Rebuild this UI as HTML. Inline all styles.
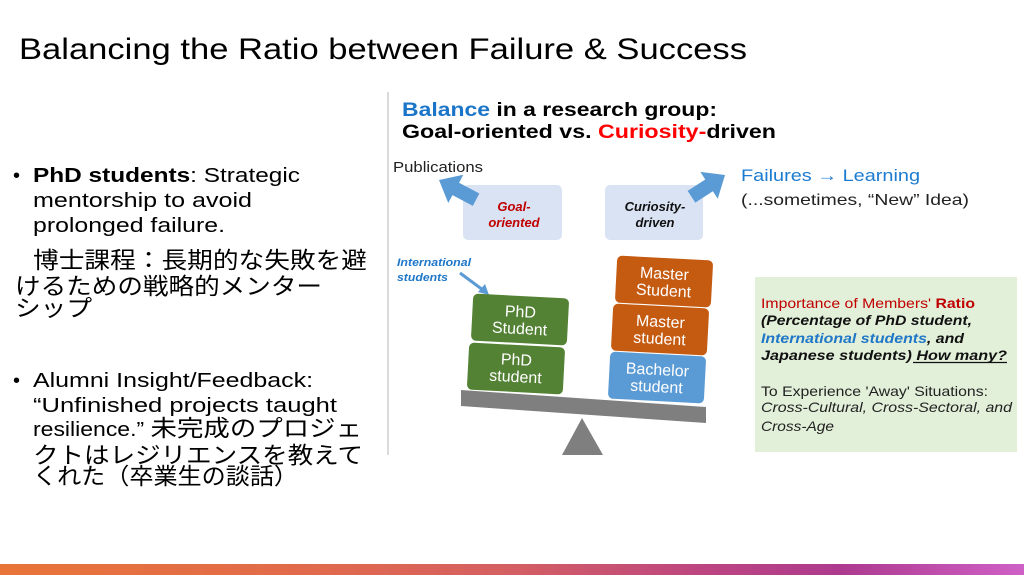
<!DOCTYPE html>
<html><head><meta charset="utf-8"><style>
html,body{margin:0;padding:0;background:#fff;}
svg{display:block;font-family:"Liberation Sans","Noto Sans CJK JP",sans-serif;}
</style></head><body>
<svg width="1024" height="575" viewBox="0 0 1024 575" xmlns="http://www.w3.org/2000/svg">
<defs>
<linearGradient id="bar" x1="0" y1="0" x2="1" y2="0">
<stop offset="0" stop-color="#e87438"/>
<stop offset="0.3" stop-color="#e26a4c"/>
<stop offset="0.5" stop-color="#d45f62"/>
<stop offset="0.68" stop-color="#bd4680"/>
<stop offset="0.82" stop-color="#ad3a8e"/>
<stop offset="1" stop-color="#cf60c6"/>
</linearGradient>
</defs>
<rect width="1024" height="575" fill="#fff"/>
<!-- Title -->
<text x="19" y="59" font-size="30" fill="#000" textLength="728" lengthAdjust="spacingAndGlyphs">Balancing the Ratio between Failure &amp; Success</text>

<!-- Left text -->
<g font-size="20" fill="#000">
<text x="13" y="182">•</text>
<text x="33" y="182" textLength="267" lengthAdjust="spacingAndGlyphs"><tspan font-weight="bold">PhD students</tspan>: Strategic</text>
<text x="33" y="207" textLength="219" lengthAdjust="spacingAndGlyphs">mentorship to avoid</text>
<text x="33" y="232" textLength="192" lengthAdjust="spacingAndGlyphs">prolonged failure.</text>
</g>
<g font-size="23" fill="#000">
<text x="33" y="268" textLength="334" lengthAdjust="spacingAndGlyphs">博士課程：長期的な失敗を避</text>
<text x="15" y="294" textLength="307" lengthAdjust="spacingAndGlyphs">けるための戦略的メンター</text>
<text x="15" y="316" textLength="77" lengthAdjust="spacingAndGlyphs">シップ</text>
</g>
<g font-size="20" fill="#000">
<text x="13" y="387">•</text>
<text x="33" y="387" textLength="280" lengthAdjust="spacingAndGlyphs">Alumni Insight/Feedback:</text>
<text x="33" y="412" textLength="304" lengthAdjust="spacingAndGlyphs">“Unfinished projects taught</text>
<text x="33" y="436" textLength="329" lengthAdjust="spacingAndGlyphs">resilience.” <tspan font-size="23">未完成のプロジェ</tspan></text>
</g>
<g font-size="23" fill="#000">
<text x="33" y="463" textLength="330" lengthAdjust="spacingAndGlyphs">クトはレジリエンスを教えて</text>
<text x="33" y="484" textLength="265" lengthAdjust="spacingAndGlyphs">くれた（卒業生の談話）</text>
</g>

<!-- divider line of picture -->
<rect x="387" y="92" width="2" height="363" fill="#dadada"/>

<!-- Header -->
<text x="402" y="116" font-size="19" font-weight="bold" fill="#000" textLength="315" lengthAdjust="spacingAndGlyphs"><tspan fill="#1a75c9">Balance</tspan> in a research group:</text>
<text x="402" y="138" font-size="19" font-weight="bold" fill="#000" textLength="374" lengthAdjust="spacingAndGlyphs">Goal-oriented vs. <tspan fill="#ff0000">Curiosity-</tspan>driven</text>

<!-- Publications -->
<text x="393" y="172" font-size="15" fill="#222" textLength="90" lengthAdjust="spacingAndGlyphs">Publications</text>

<!-- Goal / Curiosity boxes -->
<rect x="463" y="185" width="99" height="55" rx="5" fill="#dae3f3"/>
<rect x="605" y="185" width="98" height="55" rx="5" fill="#dae3f3"/>
<g font-size="13" font-weight="bold" font-style="italic" text-anchor="middle">
<text x="514" y="211" fill="#c00000">Goal-</text>
<text x="514" y="227" fill="#c00000">oriented</text>
<text x="655" y="211" fill="#111">Curiosity-</text>
<text x="655" y="227" fill="#111">driven</text>
</g>

<!-- block arrows -->
<g transform="translate(439,180) rotate(208)" fill="#5b9bd5">
<polygon points="0,0 -19,-16 -19,-7 -42,-7 -42,7 -19,7 -19,16"/>
</g>
<g transform="translate(725,175) rotate(-33)" fill="#5b9bd5">
<polygon points="0,0 -19,-16 -19,-7 -40,-7 -40,7 -19,7 -19,16"/>
</g>

<!-- Failures -> Learning -->
<text x="741" y="181" font-size="17" fill="#1a7bd0" textLength="179" lengthAdjust="spacingAndGlyphs">Failures → Learning</text>
<text x="741" y="205" font-size="16" fill="#222" textLength="228" lengthAdjust="spacingAndGlyphs">(...sometimes, “New” Idea)</text>

<!-- International students -->
<g font-size="11" font-weight="bold" font-style="italic" fill="#1f77c8">
<text x="397" y="266" textLength="74" lengthAdjust="spacingAndGlyphs">International</text>
<text x="397" y="281" textLength="51" lengthAdjust="spacingAndGlyphs">students</text>
</g>
<line x1="460" y1="273" x2="483" y2="290" stroke="#5b9bd5" stroke-width="3"/>
<polygon points="489,295 478,292 485,284" fill="#5b9bd5"/>

<!-- Student blocks -->
<g font-size="16" fill="#fff" text-anchor="middle">
<g transform="rotate(3,520,320)">
<rect x="472" y="296" width="96" height="47" rx="5" fill="#548235"/>
<text x="520" y="317">PhD</text><text x="520" y="334">Student</text>
</g>
<g transform="rotate(3,516,368)">
<rect x="468" y="345" width="96" height="47" rx="5" fill="#548235"/>
<text x="516" y="365">PhD</text><text x="516" y="382">student</text>
</g>
<g transform="rotate(3,664,282)">
<rect x="616" y="258" width="96" height="47" rx="5" fill="#c55a11"/>
<text x="664" y="279">Master</text><text x="664" y="296">Student</text>
</g>
<g transform="rotate(3,660,330)">
<rect x="612" y="306" width="96" height="47" rx="5" fill="#c55a11"/>
<text x="660" y="327">Master</text><text x="660" y="344">student</text>
</g>
<g transform="rotate(3,657,378)">
<rect x="609" y="354" width="96" height="47" rx="5" fill="#5b9bd5"/>
<text x="657" y="375">Bachelor</text><text x="657" y="392">student</text>
</g>
</g>

<!-- Beam & fulcrum -->
<polygon points="461,390 706,407 706,423 461,406" fill="#7f7f7f"/>
<polygon points="582,418 603,455 562,455" fill="#7f7f7f"/>

<!-- Green box -->
<rect x="755" y="277" width="262" height="175" fill="#e2efd9"/>
<g font-size="14">
<text x="761" y="308" fill="#c00000" textLength="214" lengthAdjust="spacingAndGlyphs">Importance of Members' <tspan font-weight="bold">Ratio</tspan></text>
<text x="761" y="325" fill="#111" font-weight="bold" font-style="italic" textLength="211" lengthAdjust="spacingAndGlyphs">(Percentage of PhD student,</text>
<text x="761" y="343" fill="#111" font-weight="bold" font-style="italic" textLength="203" lengthAdjust="spacingAndGlyphs"><tspan fill="#1f77c8">International students</tspan>, and</text>
<text x="761" y="360" fill="#111" font-weight="bold" font-style="italic" textLength="246" lengthAdjust="spacingAndGlyphs">Japanese students)  How many?</text>
<line x1="913" y1="362.5" x2="1007" y2="362.5" stroke="#111" stroke-width="1.2"/>
<text x="761" y="396" fill="#222" textLength="227" lengthAdjust="spacingAndGlyphs">To Experience 'Away' Situations:</text>
<text x="761" y="412" fill="#222" font-style="italic" textLength="251" lengthAdjust="spacingAndGlyphs">Cross-Cultural, Cross-Sectoral, and</text>
<text x="761" y="431" fill="#222" font-style="italic" textLength="73" lengthAdjust="spacingAndGlyphs">Cross-Age</text>
</g>

<!-- Bottom gradient bar -->
<rect x="0" y="564" width="1024" height="11" fill="url(#bar)"/>
</svg>
</body></html>
